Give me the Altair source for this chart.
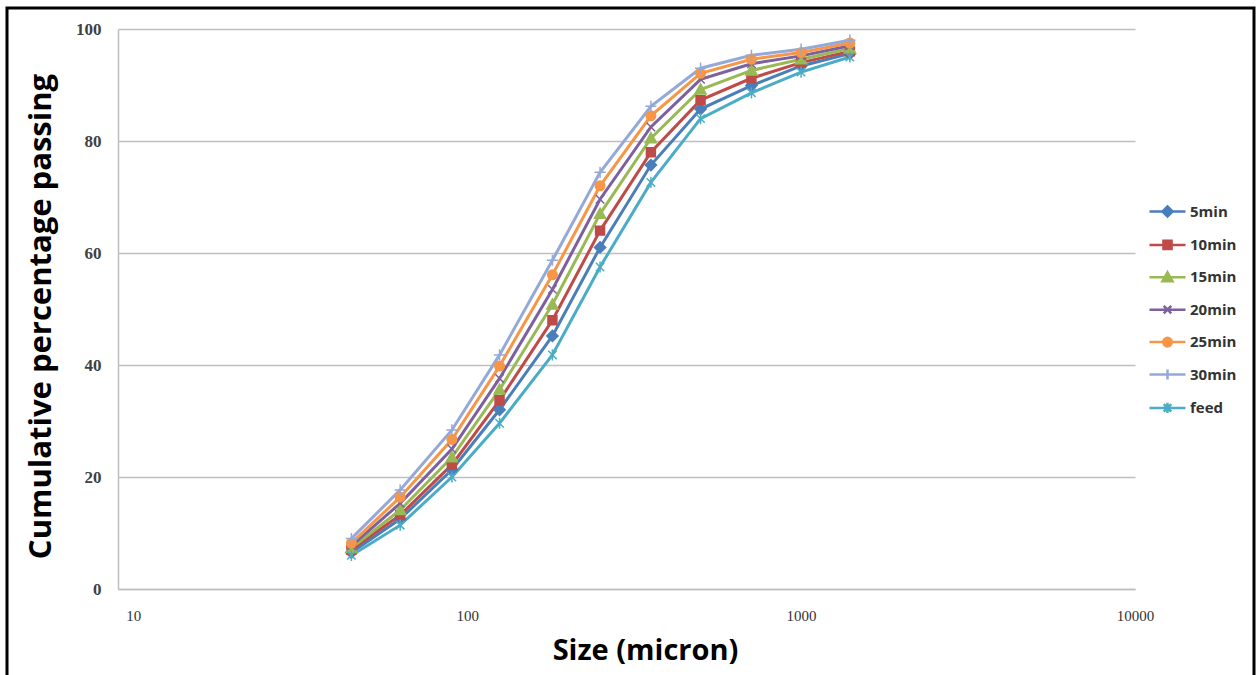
import altair as alt
import pandas as pd

# ---- data ----
sizes = [45, 63, 90, 125, 180, 250, 355, 500, 710, 1000, 1400]
series_names = ["5min", "10min", "15min", "20min", "25min", "30min", "feed"]
v_5min = [6.5, 12.5, 21.3, 32.0, 45.2, 61.0, 75.7, 85.7, 89.9, 93.4, 95.6]
v_10min = [7.0, 13.2, 22.2, 33.7, 48.0, 64.0, 78.0, 87.3, 91.2, 94.0, 96.0]
v_15min = [7.3, 14.1, 23.5, 35.6, 50.8, 67.0, 80.5, 89.2, 92.6, 94.6, 96.5]
v_20min = [7.7, 15.3, 25.0, 37.6, 53.5, 69.6, 82.5, 91.0, 93.8, 95.2, 97.0]
v_25min = [8.2, 16.4, 26.7, 39.8, 56.1, 72.0, 84.5, 92.1, 94.6, 95.8, 97.5]
v_30min = [9.0, 17.7, 28.4, 41.8, 58.7, 74.4, 86.2, 93.0, 95.3, 96.4, 98.0]
v_feed = [6.0, 11.4, 20.0, 29.6, 41.8, 57.5, 72.6, 84.0, 88.6, 92.3, 95.0]
x_ticks = [10, 100, 1000, 10000]
y_ticks = [0, 20, 40, 60, 80, 100]

all_values = [v_5min, v_10min, v_15min, v_20min, v_25min, v_30min, v_feed]
rows = []
for name, vals in zip(series_names, all_values):
    for s, v in zip(sizes, vals):
        rows.append({"size": s, "pct": v, "series": name})
df = pd.DataFrame(rows)

# ---- styles ----
colors = ["#4A7EBB", "#BE4B48", "#98B954", "#7D60A0", "#F79646", "#95A9D9", "#4BACC6"]


def marker(kind, k):
    a = lambda v: f"{v * k:.3f}"
    if kind == "diamond":
        return f"M0,{a(-1)}L{a(1)},0L0,{a(1)}L{a(-1)},0Z"
    if kind == "square":
        return f"M{a(-.8)},{a(-.8)}H{a(.8)}V{a(.8)}H{a(-.8)}Z"
    if kind == "triangle":
        return f"M0,{a(-1)}L{a(1)},{a(.8)}H{a(-1)}Z"
    if kind == "x":
        return f"M{a(-.75)},{a(-.75)}L{a(.75)},{a(.75)}M{a(-.75)},{a(.75)}L{a(.75)},{a(-.75)}"
    if kind == "circle":
        r = a(.85)
        return f"M{r},0A{r},{r},0,1,1,{a(-.85)},0A{r},{r},0,1,1,{r},0Z"
    if kind == "plus":
        return f"M{a(-1)},0H{a(1)}M0,{a(-1)}V{a(1)}"
    if kind == "asterisk":
        return (f"M{a(-.75)},{a(-.75)}L{a(.75)},{a(.75)}M{a(-.75)},{a(.75)}L{a(.75)},{a(-.75)}"
                f"M0,{a(-1)}V{a(1)}")


kinds = ["diamond", "square", "triangle", "x", "circle", "plus", "asterisk"]
main_shapes = [marker(k, 1.0) for k in kinds]
legend_shapes = ["M-1,0H1" + marker(k, 0.28) for k in kinds]

x_enc = alt.X("size:Q",
              scale=alt.Scale(type="log", domain=[9, 10000], nice=False),
              axis=alt.Axis(values=x_ticks, format="d", grid=False, ticks=False,
                            domainColor="#BFBFBF", domainWidth=1.5,
                            labelFont="Liberation Serif", labelFontSize=15,
                            labelColor="#333333", labelPadding=19, labelFlush=False,
                            title="Size (micron)", titleFont="Open Sans",
                            titleFontSize=29, titleFontWeight="bold",
                            titleColor="#000000", titlePadding=13, titleX=527))
y_enc = alt.Y("pct:Q",
              scale=alt.Scale(domain=[0, 100], nice=False),
              axis=alt.Axis(values=y_ticks, grid=True, gridColor="#BFBFBF",
                            gridWidth=1.5, ticks=False, domainColor="#BFBFBF",
                            domainWidth=1.5, labelFont="Liberation Serif",
                            labelFontSize=17, labelFontWeight="bold",
                            labelColor="#404040", labelPadding=17,
                            title="Cumulative percentage passing",
                            titleFont="Open Sans", titleFontSize=31,
                            titleFontWeight="bold", titleColor="#000000",
                            titlePadding=18, titleY=316 - 29))

base = alt.Chart(df)

lines = base.mark_line(strokeWidth=3).encode(
    x=x_enc, y=y_enc,
    color=alt.Color("series:N", scale=alt.Scale(domain=series_names, range=colors),
                    legend=None),
)

points = base.mark_point(filled=True, size=125, strokeWidth=1.5, opacity=1).encode(
    x="size:Q", y="pct:Q",
    fill=alt.Fill("series:N", scale=alt.Scale(domain=series_names, range=colors), legend=None),
    stroke=alt.Stroke("series:N", scale=alt.Scale(domain=series_names, range=colors), legend=None),
    shape=alt.Shape("series:N", scale=alt.Scale(domain=series_names, range=main_shapes), legend=None),
)

leg = alt.Legend(title=None, orient="none", legendX=1030, legendY=163,
                 labelFont="Open Sans", labelFontSize=15, labelFontWeight="bold",
                 labelColor="#333333", symbolSize=1296, symbolStrokeWidth=2.5,
                 labelOffset=3, rowPadding=3.4, padding=0)

legend_layer = base.transform_filter("false").mark_point(
    filled=True, size=1296, strokeWidth=2.5, opacity=1).encode(
    x="size:Q", y="pct:Q",
    fill=alt.Fill("series:N", scale=alt.Scale(domain=series_names, range=colors), legend=leg),
    stroke=alt.Stroke("series:N", scale=alt.Scale(domain=series_names, range=colors), legend=leg),
    shape=alt.Shape("series:N", scale=alt.Scale(domain=series_names, range=legend_shapes), legend=leg),
)

frame = alt.Chart(pd.DataFrame({"a": [0]})).mark_rect(
    fill=None, stroke="#000000", strokeWidth=3).encode(
    x=alt.value(7 - 118), x2=alt.value(1254 - 118),
    y=alt.value(8 - 29), y2=alt.value(690 - 29),
)

chart = alt.layer(frame, lines, points, legend_layer).resolve_scale(
    fill="independent", stroke="independent", shape="independent", color="independent"
).properties(
    width=1017, height=560,
    autosize=alt.AutoSizeParams(type="none"),
    padding={"left": 118, "top": 29, "right": 121, "bottom": 86},
    background="#FFFFFF",
).configure_view(stroke=None)

chart.save("out.html", embed_options={"renderer": "svg", "actions": False})
